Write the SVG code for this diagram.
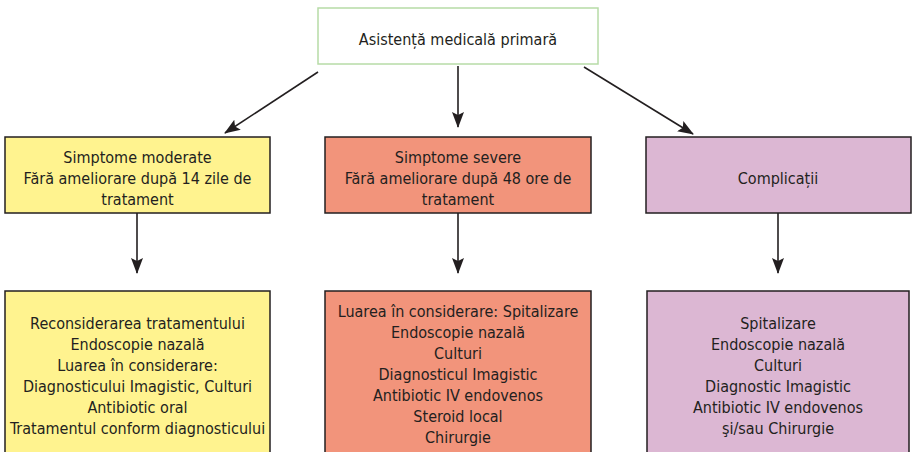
<svg xmlns="http://www.w3.org/2000/svg" width="912" height="452" viewBox="0 0 912 452">
<defs>
<style>
text{font-family:"Liberation Sans Narrow","DejaVu Sans Condensed","Liberation Sans",sans-serif;font-size:16px;fill:#231f20;text-anchor:middle;}
.box{stroke:#231f20;stroke-width:1.5;}
.y{fill:#fff38f;}
.r{fill:#f2947b;}
.p{fill:#dcb7d3;}
.c{stroke:#231f20;stroke-width:1.6;fill:none;marker-end:url(#ah);}
</style>
<marker id="ah" viewBox="0 0 16 12" refX="15" refY="6" markerWidth="16" markerHeight="12" markerUnits="userSpaceOnUse" orient="auto">
<path d="M0,0 L16,6 L0,12 L3,6 Z" fill="#231f20"/>
</marker>
</defs>
<rect width="912" height="452" fill="#ffffff"/>
<g id="connectors">
<line class="c" x1="318" y1="72" x2="225" y2="133"/>
<line class="c" x1="458" y1="66" x2="458" y2="127"/>
<line class="c" x1="584" y1="67" x2="693" y2="134"/>
<line class="c" x1="137" y1="213" x2="137" y2="273"/>
<line class="c" x1="458" y1="213" x2="458" y2="273"/>
<line class="c" x1="778" y1="213" x2="778" y2="273"/>
</g>
<g id="n0">
<rect x="318" y="8" width="280" height="56" fill="#ffffff" stroke="#b7dba7" stroke-width="1.5"/>
<text x="458" y="45">Asistență medicală primară</text>
</g>
<g id="n1">
<rect class="box y" x="5" y="137" width="265" height="76"/>
<text x="137.5" y="163">Simptome moderate</text>
<text x="137.5" y="184">Fără ameliorare după 14 zile de</text>
<text x="137.5" y="205">tratament</text>
</g>
<g id="n2">
<rect class="box r" x="325" y="137" width="266" height="76"/>
<text x="458" y="163">Simptome severe</text>
<text x="458" y="184">Fără ameliorare după 48 ore de</text>
<text x="458" y="205">tratament</text>
</g>
<g id="n3">
<rect class="box p" x="646" y="137" width="265" height="76"/>
<text x="778" y="184">Complicații</text>
</g>
<g id="n4">
<rect class="box y" x="5" y="291" width="265" height="170"/>
<text x="137.5" y="329">Reconsiderarea tratamentului</text>
<text x="137.5" y="350">Endoscopie nazală</text>
<text x="137.5" y="371">Luarea în considerare:</text>
<text x="137.5" y="392">Diagnosticului Imagistic, Culturi</text>
<text x="137.5" y="413">Antibiotic oral</text>
<text x="137.5" y="434">Tratamentul conform diagnosticului</text>
</g>
<g id="n5">
<rect class="box r" x="325" y="291" width="266" height="170"/>
<text x="458" y="317">Luarea în considerare: Spitalizare</text>
<text x="458" y="338">Endoscopie nazală</text>
<text x="458" y="359">Culturi</text>
<text x="458" y="380">Diagnosticul Imagistic</text>
<text x="458" y="401">Antibiotic IV endovenos</text>
<text x="458" y="422">Steroid local</text>
<text x="458" y="443">Chirurgie</text>
</g>
<g id="n6">
<rect class="box p" x="647" y="291" width="262" height="170"/>
<text x="778" y="329">Spitalizare</text>
<text x="778" y="350">Endoscopie nazală</text>
<text x="778" y="371">Culturi</text>
<text x="778" y="392">Diagnostic Imagistic</text>
<text x="778" y="413">Antibiotic IV endovenos</text>
<text x="778" y="434">şi/sau Chirurgie</text>
</g>
</svg>
